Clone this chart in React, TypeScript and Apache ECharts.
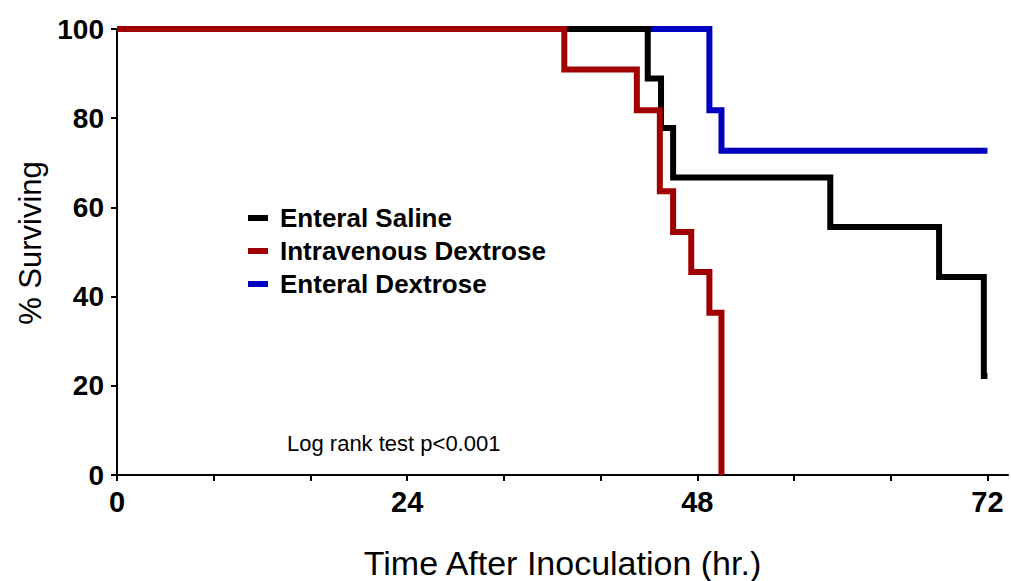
import React, { useEffect, useRef } from "react";
import * as echarts from "echarts";

const seriesNames = ["Enteral Saline", "Intravenous Dextrose", "Enteral Dextrose"];
const seriesColors = ["#000000", "#A00000", "#0000C0"];

// [hour, % surviving]
const salineData: [number, number][] = [
  [0, 100], [43.9, 88.9], [45, 77.8], [46, 66.7], [59, 55.6], [68, 44.4], [71.7, 22.2], [72, 22.2],
];
const ivDextroseData: [number, number][] = [
  [0, 100], [37, 90.9], [43, 81.8], [44.9, 63.6], [46, 54.5], [47.5, 45.5], [49, 36.4], [50, 0],
];
const enteralDextroseData: [number, number][] = [
  [0, 100], [49, 81.8], [50, 72.7], [72, 72.7],
];

const xLabelValues = [0, 24, 48, 72];
const xTickValues = [0, 8, 16, 24, 32, 40, 48, 56, 64, 72];
const annotation = "Log rank test p<0.001";

export default function App() {
  const ref = useRef<HTMLDivElement>(null);
  useEffect(() => {
    if (!ref.current) return;
    const chart = echarts.init(ref.current, null, { renderer: "svg" });
    const datasets = [salineData, ivDextroseData, enteralDextroseData];
    const order = [2, 0, 1];
    const font = "Liberation Sans, Arial, sans-serif";
    chart.setOption({
      animation: false,
      backgroundColor: "#ffffff",
      grid: { left: 117, top: 29, right: 3, bottom: 106, outerBoundsMode: "none", containLabel: false },
      legend: {
        orient: "vertical",
        left: 243,
        top: 200,
        itemWidth: 20,
        itemHeight: 6,
        itemGap: 7,
        icon: "rect",
        data: seriesNames,
        textStyle: {
          fontFamily: font,
          fontWeight: "bold",
          fontSize: 26,
          lineHeight: 26,
          color: "#000",
          padding: [0, 0, 0, 7],
        },
      },
      xAxis: {
        type: "value",
        min: 0,
        max: 73.7,
        name: "Time After Inoculation (hr.)",
        nameLocation: "middle",
        nameGap: 71,
        nameTextStyle: {
          fontFamily: font,
          fontSize: 34,
          color: "#000",
        },
        splitLine: { show: false },
        axisLine: { lineStyle: { color: "#000", width: 2 } },
        axisTick: { show: true, customValues: xTickValues, length: 6, lineStyle: { color: "#000", width: 2 } },
        axisLabel: {
          customValues: xLabelValues,
          margin: 12,
          fontFamily: font,
          fontWeight: "bold",
          fontSize: 29,
          color: "#000",
        },
      },
      yAxis: {
        type: "value",
        min: 0,
        max: 100,
        interval: 20,
        name: "% Surviving",
        nameLocation: "middle",
        nameGap: 69,
        nameTextStyle: {
          fontFamily: font,
          fontSize: 31,
          color: "#000",
          padding: [0, 0, 0, 18],
        },
        splitLine: { show: false },
        axisLine: { show: true, lineStyle: { color: "#000", width: 2 } },
        axisTick: { show: true, length: 6, lineStyle: { color: "#000", width: 2 } },
        axisLabel: {
          margin: 13,
          fontFamily: font,
          fontWeight: "bold",
          fontSize: 28,
          color: "#000",
        },
      },
      graphic: [
        {
          type: "text",
          left: 287,
          top: 432,
          style: {
            text: annotation,
            fontFamily: font,
            fontSize: 22,
            fill: "#000",
          },
        },
      ],
      series: order.map((i) => ({
        name: seriesNames[i],
        type: "line",
        step: "end",
        data: datasets[i],
        showSymbol: false,
        symbol: "none",
        color: seriesColors[i],
        lineStyle: { color: seriesColors[i], width: 6, join: "miter" },
        z: 2 + order.indexOf(i),
      })),
    });
    return () => chart.dispose();
  }, []);
  return (
    <div
      ref={ref}
      style={{ position: "fixed", left: 0, top: 0, width: 1011, height: 581 }}
    />
  );
}
